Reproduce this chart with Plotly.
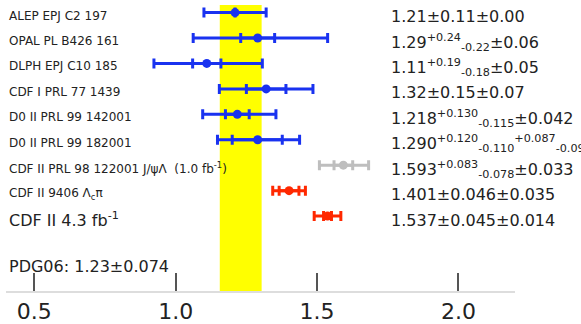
import numpy as np
import plotly.graph_objects as go

labels = [
    "ALEP EPJ C2 197",
    "OPAL PL B426 161",
    "DLPH EPJ C10 185",
    "CDF I PRL 77 1439",
    "D0 II PRL 99 142001",
    "D0 II PRL 99 182001",
    "CDF II PRL 98 122001 J/ψΛ  (1.0 fb<sup>-1</sup>)",
    "CDF II 9406 Λ<sub>c</sub>π",
    "CDF II 4.3 fb<sup>-1</sup>",
]
label_sizes = [12, 12, 12, 12, 12, 12, 12, 12, 16]
values = [1.21, 1.29, 1.11, 1.32, 1.218, 1.290, 1.593, 1.401, 1.537]
stat_plus = [0.11, 0.24, 0.19, 0.15, 0.130, 0.120, 0.083, 0.046, 0.045]
stat_minus = [0.11, 0.22, 0.18, 0.15, 0.115, 0.110, 0.078, 0.046, 0.045]
syst_plus = [0.00, 0.06, 0.05, 0.07, 0.042, 0.087, 0.033, 0.035, 0.014]
syst_minus = [0.00, 0.06, 0.05, 0.07, 0.042, 0.09, 0.033, 0.035, 0.014]
value_texts = [
    "1.21±0.11±0.00",
    "1.29<sup>+0.24</sup><sub>-0.22</sub>±0.06",
    "1.11<sup>+0.19</sup><sub>-0.18</sub>±0.05",
    "1.32±0.15±0.07",
    "1.218<sup>+0.130</sup><sub>-0.115</sub>±0.042",
    "1.290<sup>+0.120</sup><sub>-0.110</sub><sup>+0.087</sup><sub>-0.09</sub>",
    "1.593<sup>+0.083</sup><sub>-0.078</sub>±0.033",
    "1.401±0.046±0.035",
    "1.537±0.045±0.014",
]
groups = ["blue"] * 6 + ["grey"] + ["red"] * 2
pdg_value = 1.23
pdg_error = 0.074
pdg_text = "PDG06: 1.23±0.074"
tick_vals = [0.5, 1.0, 1.5, 2.0]
tick_text = ["0.5", "1.0", "1.5", "2.0"]

colors = {"blue": "rgb(25,50,240)", "grey": "rgb(190,190,190)", "red": "rgb(255,40,0)"}
FONT = "DejaVu Sans"

vals = np.array(values)
sp, sm = np.array(stat_plus), np.array(stat_minus)
yp, ym = np.array(syst_plus), np.array(syst_minus)
tot_p = np.sqrt(sp**2 + yp**2)
tot_m = np.sqrt(sm**2 + ym**2)
rows = -np.arange(len(values), dtype=float)

fig = go.Figure()

fig.add_shape(type="rect", xref="x", yref="y",
              x0=pdg_value - pdg_error, x1=pdg_value + pdg_error,
              y0=-11.5, y1=0.30, fillcolor="#ffff00", line_width=0, layer="below")

for g, col in colors.items():
    idx = [i for i, gg in enumerate(groups) if gg == g]
    syp = [yp[i] if yp[i] > 0 else None for i in idx]
    sym = [ym[i] if ym[i] > 0 else None for i in idx]
    fig.add_trace(go.Scatter(
        x=vals[idx], y=rows[idx], mode="markers",
        marker=dict(size=1, color=col, opacity=0),
        error_x=dict(type="data", symmetric=False, array=syp, arrayminus=sym,
                     color=col, thickness=3, width=5),
        showlegend=False, hoverinfo="skip"))
    fig.add_trace(go.Scatter(
        x=vals[idx], y=rows[idx], mode="markers",
        marker=dict(size=9, color=col, symbol="circle"),
        error_x=dict(type="data", symmetric=False, array=tot_p[idx], arrayminus=tot_m[idx],
                     color=col, thickness=3, width=5),
        showlegend=False))

annotations = []
for i, (lab, sz, vt) in enumerate(zip(labels, label_sizes, value_texts)):
    annotations.append(dict(xref="paper", yref="y", x=0.002, y=rows[i], yshift=-3,
                            text=lab, showarrow=False, xanchor="left", yanchor="middle",
                            font=dict(family=FONT, size=sz, color="#222")))
    annotations.append(dict(xref="paper", yref="y", x=0.753, y=rows[i], yshift=-4,
                            text=vt, showarrow=False, xanchor="left", yanchor="middle",
                            font=dict(family=FONT, size=16, color="#222")))
annotations.append(dict(xref="paper", yref="y", x=0.002, y=-10.0, yshift=0,
                        text=pdg_text, showarrow=False, xanchor="left", yanchor="middle",
                        font=dict(family=FONT, size=16, color="#222")))

fig.update_layout(
    width=581, height=324,
    margin=dict(l=6, r=66, t=0, b=30),
    plot_bgcolor="white", paper_bgcolor="white",
    annotations=annotations,
    xaxis=dict(range=[0.4, 2.2], tickvals=tick_vals, ticktext=tick_text,
               ticks="inside", ticklen=18, tickwidth=1.5, tickcolor="#555",
               showline=True, linecolor="#ddd", linewidth=2, showgrid=False, zeroline=False,
               tickfont=dict(family=FONT, size=22, color="#222")),
    yaxis=dict(range=[-10.946, 0.494], visible=False, showgrid=False, zeroline=False),
)

fig.write_html("out.html")
